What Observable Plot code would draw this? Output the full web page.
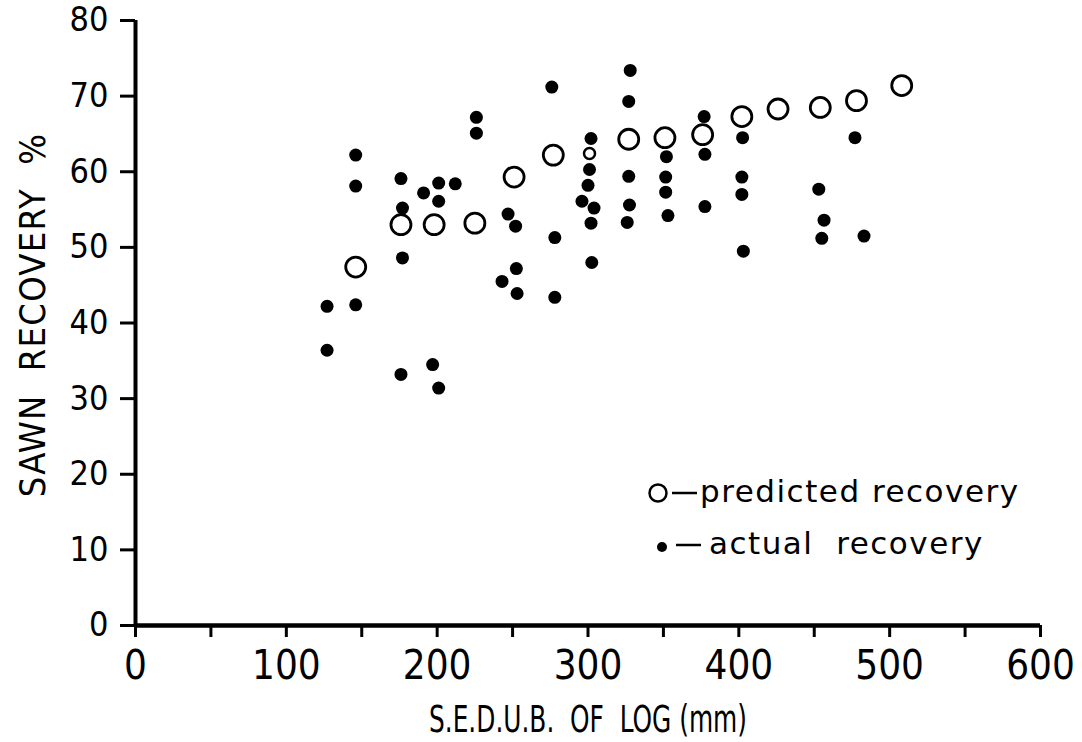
<!DOCTYPE html>
<html>
<head>
<meta charset="utf-8">
<script src="https://cdn.jsdelivr.net/npm/d3@7"></script>
<script src="https://cdn.jsdelivr.net/npm/@observablehq/plot@0.6"></script>
<style>
  html, body { margin: 0; padding: 0; background: #fff; }
  #wrap { position: relative; width: 1082px; height: 742px; }
  #legend { position: absolute; left: 0; top: 0; }
  g[aria-label="y-axis label"] text { letter-spacing: 1.3px; }
</style>
</head>
<body>
<div id="wrap"></div>
<script>
// Predicted recovery (open circles)
const predictedX = [146, 176, 198, 225, 251, 277, 327, 351, 376, 402, 426, 454, 478, 508];
const predictedY = [47.4, 53.0, 53.0, 53.2, 59.3, 62.2, 64.3, 64.5, 64.9, 67.3, 68.3, 68.5, 69.4, 71.4];
// small predicted marker at 300 mm
const predictedSmallX = [301];
const predictedSmallY = [62.4];
// Actual recovery (filled dots)
const actualX = [146, 146, 146, 127, 127, 176, 177, 177, 176, 191, 201, 201, 197, 201, 212, 226, 226,
  247, 252, 252.5, 243, 253, 276, 278, 278, 302, 301, 300, 296, 304, 302, 302.5,
  328, 327, 327, 327.5, 326, 352, 351.5, 351.5, 353, 377, 377.5, 377.5,
  402.5, 402, 402, 403, 453, 456.5, 455, 477, 483];
const actualY = [62.2, 58.1, 42.4, 42.2, 36.4, 59.1, 55.2, 48.6, 33.2, 57.2, 58.5, 56.1, 34.5, 31.4, 58.4, 67.2, 65.1,
  54.4, 52.8, 47.2, 45.5, 43.9, 71.2, 51.3, 43.4, 64.4, 60.3, 58.2, 56.1, 55.2, 53.2, 48.0,
  73.4, 69.3, 59.4, 55.6, 53.3, 62.0, 59.3, 57.3, 54.2, 67.3, 62.3, 55.4,
  64.5, 59.3, 57.0, 49.5, 57.7, 53.6, 51.2, 64.5, 51.5];
const yTicks = [0, 10, 20, 30, 40, 50, 60, 70, 80];
const xMinorTicks = [0, 50, 100, 150, 200, 250, 300, 350, 400, 450, 500, 550, 600];
const xLabelTicks = [0, 100, 200, 300, 400, 500, 600];
const xTitle = "S.E.D.U.B.  OF  LOG (mm)";
const yTitle = "SAWN  RECOVERY  %";
const legendLabels = ["predicted recovery", "actual  recovery"];

const predicted = predictedX.map((x, i) => ({x, y: predictedY[i]}));
const predictedSmall = predictedSmallX.map((x, i) => ({x, y: predictedSmallY[i]}));
const actual = actualX.map((x, i) => ({x, y: actualY[i]}));

const font = '"DejaVu Sans Condensed", "DejaVu Sans", sans-serif';

const chart = Plot.plot({
  width: 1082,
  height: 742,
  marginLeft: 135,
  marginRight: 42,
  marginTop: 20,
  marginBottom: 117,
  style: {fontFamily: font, color: "#000", background: "#fff", overflow: "visible"},
  x: {domain: [0, 600]},
  y: {domain: [0, 80]},
  marks: [
    Plot.axisY({ticks: yTicks, tickSize: 15, tickPadding: 12, fontSize: 34, strokeWidth: 3, label: null}),
    Plot.axisY({ticks: [], label: yTitle, labelAnchor: "center", labelArrow: "none", labelOffset: 116, fontSize: 36}),
    Plot.axisX({ticks: xMinorTicks, tickSize: 12, tickFormat: () => "", strokeWidth: 3, label: null}),
    Plot.axisX({ticks: xLabelTicks, tickSize: 0, tickPadding: 25, fontSize: 40, label: null}),
    Plot.axisX({ticks: [], label: xTitle, labelAnchor: "center", labelArrow: "none", labelOffset: 106, fontSize: 37}),
    Plot.ruleX([0], {strokeWidth: 4}),
    Plot.ruleY([0], {strokeWidth: 4.5}),
    Plot.dot(predicted, {x: "x", y: "y", r: 10, stroke: "#000", strokeWidth: 2.8, fill: "none"}),
    Plot.dot(predictedSmall, {x: "x", y: "y", r: 5.5, stroke: "#000", strokeWidth: 2.5, fill: "none"}),
    Plot.dot(actual, {x: "x", y: "y", r: 6.5, fill: "#000", stroke: "none"})
  ]
});
// compress the x-axis title to the narrow lettering of the original
const xLab = chart.querySelector('g[aria-label="x-axis label"] text');
if (xLab) { xLab.setAttribute("textLength", 318); xLab.setAttribute("lengthAdjust", "spacingAndGlyphs"); }
// nudge the y-axis title slightly upward, as in the original
const yLabG = chart.querySelector('g[aria-label="y-axis label"]');
if (yLabG) {
  const shift = document.createElementNS("http://www.w3.org/2000/svg", "g");
  shift.setAttribute("transform", "translate(0,-8)");
  yLabG.parentNode.insertBefore(shift, yLabG);
  shift.appendChild(yLabG);
}

const wrap = document.getElementById("wrap");
wrap.appendChild(chart);

// legend (inside the plot area, lower right)
const legend = document.createElement("div");
legend.id = "legend";
legend.innerHTML = `
  <svg width="1082" height="742" style="position:absolute;left:0;top:0;overflow:visible"
       font-family="DejaVu Sans, sans-serif" font-size="31" letter-spacing="1.5">
    <circle cx="658" cy="493" r="8.5" fill="none" stroke="#000" stroke-width="2.5"/>
    <line x1="672" x2="697" y1="493" y2="493" stroke="#000" stroke-width="2.5"/>
    <text x="700" y="502" style="white-space:pre">${legendLabels[0]}</text>
    <circle cx="662" cy="547" r="5" fill="#000"/>
    <line x1="676" x2="701" y1="545" y2="545" stroke="#000" stroke-width="2.5"/>
    <text x="709" y="554" style="white-space:pre">${legendLabels[1]}</text>
  </svg>`;
wrap.appendChild(legend);
</script>
</body>
</html>
